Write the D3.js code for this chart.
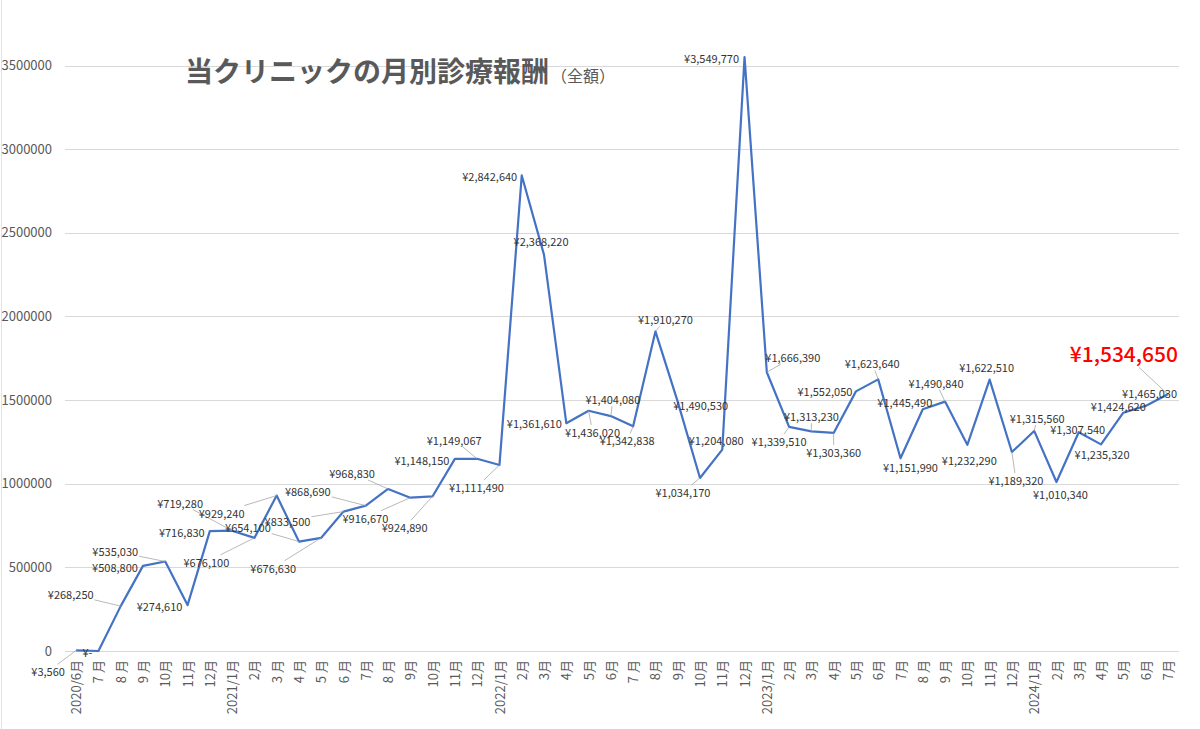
<!DOCTYPE html>
<html>
<head>
<meta charset="utf-8">
<script src="https://cdn.jsdelivr.net/npm/d3@7"></script>
<style>
  body { margin: 0; background: #fff; }
  text { font-family: "Noto Sans CJK JP", "Noto Sans", sans-serif; }
</style>
</head>
<body>
<div id="chart"></div>
<script>
// months 2020/6 .. 2024/7
const months = [
  "2020/6月", "7 月", "8 月", "9 月", "10月", "11月", "12月",
  "2021/1月", "2月", "3 月", "4 月", "5 月", "6 月", "7月", "8 月", "9月", "10月", "11月", "12月",
  "2022/1月", "2月", "3月", "4月", "5月", "6月", "7 月", "8月", "9月", "10月", "11月", "12月",
  "2023/1月", "2月", "3月", "4月", "5月", "6月", "7月", "8 月", "9 月", "10月", "11月", "12月",
  "2024/1月", "2月", "3月", "4月", "5月", "6月", "7月"
];

const revenue = [
  3560, 0, 268250, 508800, 535030, 274610, 716830,
  719280, 676100, 929240, 654100, 676630, 833500, 868690, 968830, 916670, 924890, 1148150, 1149067,
  1111490, 2842640, 2368220, 1361610, 1436020, 1404080, 1342838, 1910270, 1490530, 1034170, 1204080, 3549770,
  1666390, 1339510, 1313230, 1303360, 1552050, 1623640, 1151990, 1445490, 1490840, 1232290, 1622510, 1189320,
  1315560, 1010340, 1307540, 1235320, 1424620, 1465030, 1534650
];

const yTicks = [0, 500000, 1000000, 1500000, 2000000, 2500000, 3000000, 3500000];

// data label offsets from each point [dx, dy, leader line?]
const labelOffsets = [
  [-28, 21, 1], [-11, 1, 0], [-50, -12, 1], [-28, 1, 0], [-50, -10, 1], [-28, 1, 0], [-28, 1, 0],
  [-52, -28, 1], [-48, 24, 1], [-55, 17, 1], [-51, -15, 1], [-48, 30, 1], [-56, 9, 1], [-58, -15, 1],
  [-36, -16, 1], [-45, 20, 1], [-28, 31, 1], [-33, 1, 0], [-23, -19, 1],
  [-23, 22, 1], [-32, 1, 0], [-3, -14, 0], [-32, 0, 0], [4, 21, 1], [2, -17, 1], [-6, 14, 1],
  [10, -12, 1], [23, 3, 0], [-17, 14, 1], [-6, -10, 0], [-33, 1, 0],
  [26, -15, 1], [-10, 14, 1], [0, -15, 1], [0, 19, 1], [-31, 0, 0], [-6, -16, 1], [10, 9, 0],
  [-18, -7, 0], [-9, -19, 1], [2, 15, 0], [-3, -13, 0], [4, 28, 1],
  [3, -13, 1], [4, 12, 0], [-1, -3, 0], [1, 10, 0], [-5, -7, 0], [4, -13, 0], [-44, -41, 1]
];

const width = 1200, height = 729;
const margin = { top: 66, right: 21, bottom: 78, left: 65 };

const svg = d3.select("#chart").append("svg")
  .attr("width", width)
  .attr("height", height);

// faint chart border on the left
svg.append("line")
  .attr("x1", 1.5).attr("x2", 1.5).attr("y1", 0).attr("y2", height)
  .attr("stroke", "#e3e3e3").attr("stroke-width", 1);

const x = d3.scalePoint()
  .domain(d3.range(months.length))
  .range([margin.left, width - margin.right])
  .padding(0.5);

const y = d3.scaleLinear()
  .domain([0, 3500000])
  .range([651, 65.5]);

// gridlines
svg.append("g")
  .selectAll("line")
  .data(yTicks)
  .join("line")
  .attr("x1", margin.left)
  .attr("x2", width - margin.right)
  .attr("y1", d => Math.round(y(d)) + 0.5)
  .attr("y2", d => Math.round(y(d)) + 0.5)
  .attr("stroke", "#d9d9d9")
  .attr("stroke-width", 1);

// y axis labels
const yAxis = d3.axisLeft(y).tickValues(yTicks).tickSize(0).tickPadding(0)
  .tickFormat(d3.format("d"));
const yAxisGroup = svg.append("g")
  .attr("transform", "translate(52,0)")
  .call(yAxis);
yAxisGroup.select(".domain").remove();
yAxisGroup.selectAll("text")
  .attr("fill", "#595959")
  .style("font-size", "13px");

// x axis labels (rotated)
const xAxis = d3.axisBottom(x).tickSize(0).tickPadding(0)
  .tickFormat(i => months[i]);
const xAxisGroup = svg.append("g")
  .attr("transform", "translate(0,660)")
  .call(xAxis);
xAxisGroup.select(".domain").remove();
xAxisGroup.selectAll("text")
  .attr("transform", "rotate(-90)")
  .attr("text-anchor", "end")
  .attr("x", 0)
  .attr("y", 0)
  .attr("dy", "0.35em")
  .attr("fill", "#595959")
  .style("font-size", "13px");

// the line
const line = d3.line()
  .x((d, i) => x(i))
  .y(d => y(d));

svg.append("path")
  .datum(revenue)
  .attr("fill", "none")
  .attr("stroke", "#4472c4")
  .attr("stroke-width", 2.2)
  .attr("stroke-linejoin", "round")
  .attr("d", line);

// data labels
const fmt = d => d === 0 ? "¥-" : "¥" + d3.format(",")(d);
const leaders = svg.append("g");
const labels = svg.append("g");
const last = revenue.length - 1;

revenue.forEach((v, i) => {
  const px = x(i), py = y(v);
  const [dx, dy, lead] = labelOffsets[i];
  const isLast = i === last;
  const t = labels.append("text")
    .attr("x", px + dx)
    .attr("y", py + dy)
    .attr("text-anchor", "middle")
    .attr("dominant-baseline", "central")
    .attr("fill", isLast ? "#ff0000" : "#333333")
    .attr("font-weight", isLast ? 500 : "normal")
    .style("font-size", isLast ? "21px" : "11px")
    .text(fmt(v));

  if (lead) {
    const b = t.node().getBBox();
    const cx = b.x + b.width / 2, cy = b.y + b.height / 2;
    // stop the leader where it meets the label box
    const ux = cx - px, uy = cy - py;
    const hw = b.width / 2 + 1, hh = b.height / 2 - 1;
    const sx = Math.abs(ux) > 0 ? Math.max(0, 1 - hw / Math.abs(ux)) : 0;
    const sy = Math.abs(uy) > 0 ? Math.max(0, 1 - hh / Math.abs(uy)) : 0;
    const sc = Math.max(sx, sy);
    leaders.append("line")
      .attr("x1", px).attr("y1", py)
      .attr("x2", px + ux * sc).attr("y2", py + uy * sc)
      .attr("stroke", "#a6a6a6")
      .attr("stroke-width", 0.8);
  }
});

// title
const title = svg.append("text")
  .attr("x", 185)
  .attr("y", 82)
  .attr("fill", "#595959");
title.append("tspan")
  .attr("font-weight", "bold")
  .style("font-size", "28px")
  .text("当クリニックの月別診療報酬");
title.append("tspan")
  .attr("dx", 2)
  .style("font-size", "16px")
  .text("（全額）");
</script>
</body>
</html>
